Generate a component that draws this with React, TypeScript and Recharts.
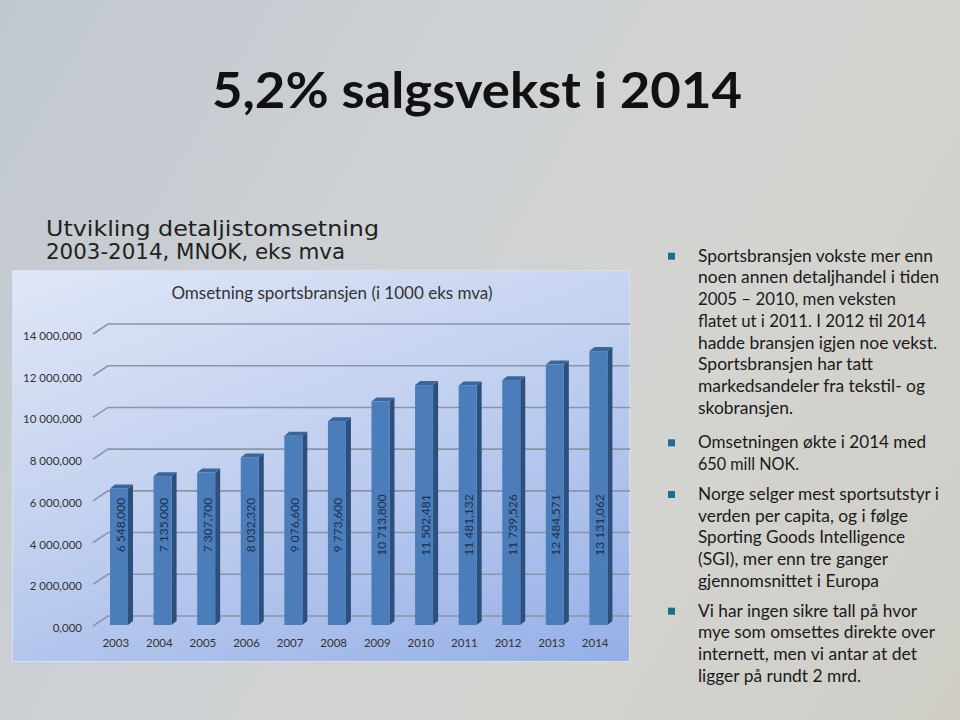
import React from "react";
import { BarChart, Bar, XAxis, YAxis, CartesianGrid } from "recharts";

// Omsetning sportsbransjen (i 1000 eks mva)
const years = ["2003", "2004", "2005", "2006", "2007", "2008", "2009", "2010", "2011", "2012", "2013", "2014"];
const sales = [6548000, 7135000, 7307700, 8032320, 9076600, 9773600, 10713800, 11502481, 11481132, 11739526, 12484571, 13131062];
const yTicks = [0, 2000000, 4000000, 6000000, 8000000, 10000000, 12000000, 14000000];

const bullets = [
  ["Sportsbransjen vokste mer enn", "noen annen detaljhandel i tiden", "2005 – 2010, men veksten", "flatet ut i 2011. I 2012 til 2014", "hadde bransjen igjen noe vekst.", "Sportsbransjen har tatt", "markedsandeler fra tekstil- og", "skobransjen."],
  ["Omsetningen økte i 2014 med", "650 mill NOK."],
  ["Norge selger mest sportsutstyr i", "verden per capita, og i følge", "Sporting Goods Intelligence", "(SGI), mer enn tre ganger", "gjennomsnittet i Europa"],
  ["Vi har ingen sikre tall på hvor", "mye som omsettes direkte over", "internett, men vi antar at det", "ligger på rundt 2 mrd."],
];
const bulletWidths = [
  [235, 241, 198, 228, 239, 175, 227, 95],
  [228, 101],
  [241, 210, 207, 190, 181],
  [219, 237, 219, 163],
];
const bulletTops = [261.7, 448.3, 500, 616.7];

const data = years.map((year, i) => ({ year, sales: sales[i] }));

const pad = (n: number) => String(n).padStart(3, "0");
const fmt = (v: number) => {
  const m = Math.floor(v / 1e6);
  const t = Math.floor(v / 1e3) % 1000;
  const u = v % 1000;
  return m > 0 ? `${m} ${pad(t)},${pad(u)}` : `${t},${pad(u)}`;
};

const FONT = "Lato, 'Open Sans', sans-serif";

const Bar3D = (props: any) => {
  const { x, y, width, height, payload } = props;
  const d = 5;
  const e = 4;
  const cx = x + width / 2 + 1;
  const cy = y + height - 100;
  return (
    <g>
      <path d={`M${x + width},${y} L${x + width + d},${y - e} L${x + width + d},${y + height - e} L${x + width},${y + height} Z`} fill="#2c4f7e" />
      <path d={`M${x},${y} L${x + d},${y - e} L${x + width + d},${y - e} L${x + width},${y} Z`} fill="#3a6699" />
      <rect x={x} y={y} width={width} height={height} fill="#4a7dba" />
      <text x={cx} y={cy} transform={`rotate(-90, ${cx}, ${cy})`} textAnchor="middle" dominantBaseline="central" fontSize={12} fontFamily={FONT} fill="#1d2f4c">
        {fmt(payload.sales)}
      </text>
    </g>
  );
};

const GridLine = (props: any) => {
  const { x1, y1, x2 } = props;
  return (
    <path
      key={props.key ?? `g-${y1}`}
      d={`M${x1 - 4},${y1 + 1} L${x1 + 11},${y1 - 9} L${x2 + 12},${y1 - 9}`}
      fill="none"
      stroke="#8a95a9"
      strokeWidth={1.6}
    />
  );
};

const YTick = (props: any) => {
  const { x, y, payload } = props;
  return (
    <text x={x - 7} y={y + 7} textAnchor="end" fontSize={11.5} fontFamily={FONT} fill="#333">
      {fmt(payload.value)}
    </text>
  );
};

const XTick = (props: any) => {
  const { x, y, payload } = props;
  return (
    <text x={x - 3} y={y + 14} textAnchor="middle" fontSize={11.5} fontFamily={FONT} fill="#333">
      {payload.value}
    </text>
  );
};

export default function App() {
  return (
    <div
      style={{
        position: "absolute",
        left: 0,
        top: 0,
        width: 960,
        height: 720,
        overflow: "hidden",
        background: "linear-gradient(120deg, #c1c7cf 0%, #cdd1d5 35%, #d4d4d1 65%, #cfcdc6 100%)",
      }}
    >
      <svg width={960} height={720} style={{ position: "absolute", left: 0, top: 0 }}>
        <text x={212} y={108} fontSize={50} fontWeight={700} fontFamily={FONT} textLength={530} lengthAdjust="spacingAndGlyphs" fill="#111">
          5,2% salgsvekst i 2014
        </text>
        <text x={46} y={236} fontSize={20.5} fontFamily="'DejaVu Sans', sans-serif" textLength={333} lengthAdjust="spacingAndGlyphs" fill="#222">
          Utvikling detaljistomsetning
        </text>
        <text x={46} y={259} fontSize={20.5} fontFamily="'DejaVu Sans', sans-serif" textLength={299} lengthAdjust="spacingAndGlyphs" fill="#222">
          2003-2014, MNOK, eks mva
        </text>
        {bullets.map((lines, b) => (
          <g key={b}>
            <rect x={668} y={bulletTops[b] - 9} width={7} height={7} fill="#1d6d8c" />
            {lines.map((line, i) => (
              <text
                key={i}
                x={698}
                y={bulletTops[b] + i * 21.7}
                fontSize={17}
                fontFamily={FONT}
                textLength={bulletWidths[b][i]}
                lengthAdjust="spacingAndGlyphs"
                fill="#1a1a1a"
              >
                {line}
              </text>
            ))}
          </g>
        ))}
      </svg>

      <div
        style={{
          position: "absolute",
          left: 12,
          top: 270,
          width: 618,
          height: 392,
          background: "linear-gradient(160deg, #dfe6f6 0%, #c3d1f0 45%, #95afe7 100%)",
          boxShadow: "inset 0 0 0 1px #d8e1f3",
        }}
      >
        <BarChart width={618} height={392} data={data} margin={{ top: 63, right: 10, left: 0, bottom: 0 }} barSize={18}>
          <text x={320} y={29} textAnchor="middle" fontSize={17} fontFamily={FONT} fill="#333">
            Omsetning sportsbransjen (i 1000 eks mva)
          </text>
          <CartesianGrid vertical={false} horizontal={GridLine as any} />
          <XAxis dataKey="year" axisLine={false} tickLine={false} height={37} tick={XTick} interval={0} />
          <YAxis domain={[0, 14000000]} ticks={yTicks} axisLine={false} tickLine={false} width={85} tick={YTick} interval={0} />
          <Bar dataKey="sales" shape={Bar3D} isAnimationActive={false} />
        </BarChart>
      </div>
    </div>
  );
}
